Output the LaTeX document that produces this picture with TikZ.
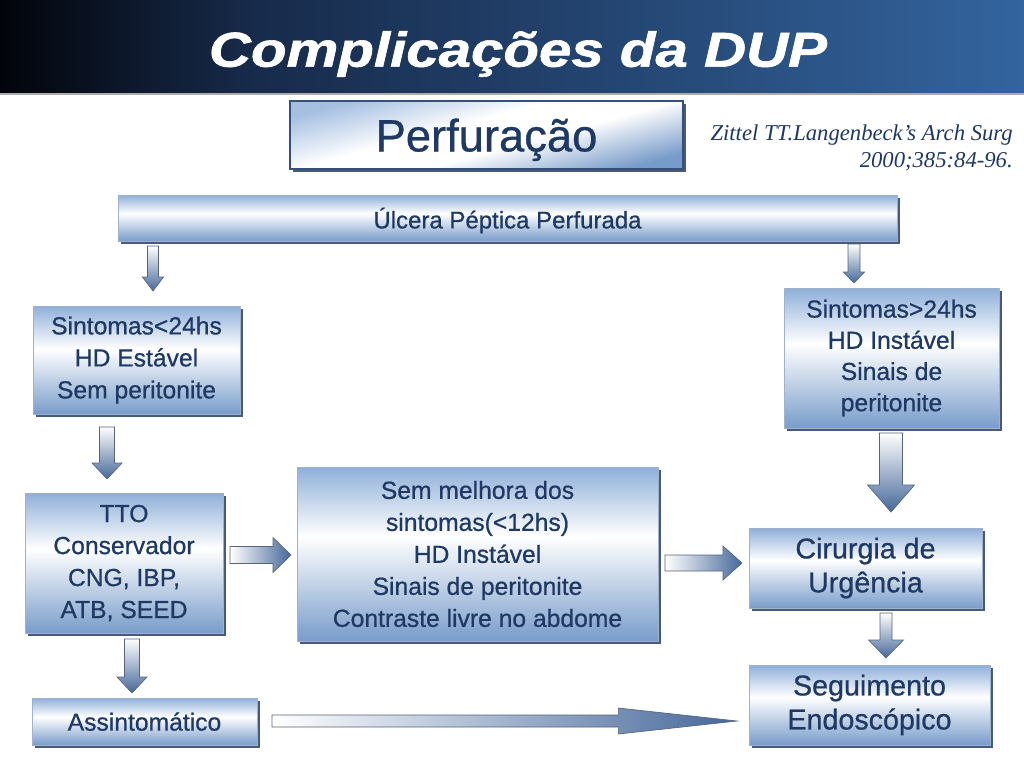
\documentclass[tikz,border=0pt]{standalone}
\usepackage{fontspec}
\setmainfont{Liberation Sans}[FakeBold=0.7]
\newfontfamily\citefont{Liberation Serif}
\newfontfamily\titlefont{Liberation Sans}[FakeBold=1.2]
\usetikzlibrary{shadows}
\definecolor{txt}{HTML}{1F3963}
\definecolor{tb0}{HTML}{02040A}
\definecolor{tb1}{HTML}{172A4A}
\definecolor{tb2}{HTML}{33649E}
\definecolor{btop}{HTML}{8FAFD9}
\definecolor{bbot}{HTML}{789CCA}
\definecolor{boxedge}{HTML}{9EB2CC}
\definecolor{shadowc}{HTML}{3E5275}
\definecolor{arrowc}{HTML}{46689A}
\definecolor{arrowedge}{HTML}{56657C}
\definecolor{perfedge}{HTML}{35507A}
\colorlet{pstart}{btop!80!white}
\pgfdeclarehorizontalshading{titlebar}{100bp}{color(0bp)=(tb0); color(25bp)=(tb0); color(37bp)=(tb1); color(75bp)=(tb2); color(100bp)=(tb2)}
\pgfdeclareverticalshading{boxv}{100bp}{color(0bp)=(bbot); color(25bp)=(bbot); color(55bp)=(white); color(75bp)=(btop); color(100bp)=(btop)}
\pgfdeclarehorizontalshading{perfshade}{100bp}{color(0bp)=(pstart); color(25bp)=(pstart); color(44bp)=(white); color(56bp)=(white); color(75bp)=(bbot); color(100bp)=(bbot)}
\tikzset{
  bx/.style 2 args={minimum width=#1*0.75pt, minimum height=#2*0.75pt},
  flowbox/.style={draw=boxedge, line width=0.6pt, shading=boxv, inner sep=0pt,
    drop shadow={shadow xshift=2.2pt, shadow yshift=-2.2pt, fill=shadowc, opacity=0.95},
    text=txt, align=center},
  txtA/.style={font={\fontsize{18.5}{24}\selectfont}},
  txtB/.style={font={\fontsize{21.5}{25.5}\selectfont}},
  darrow/.style n args={3}{to path={([xshift=-#1]\tikztostart) -- ([xshift=#1]\tikztostart)
      -- ([xshift=#1,yshift=#3]\tikztotarget) -- ([xshift=#2,yshift=#3]\tikztotarget)
      -- (\tikztotarget) -- ([xshift=-#2,yshift=#3]\tikztotarget)
      -- ([xshift=-#1,yshift=#3]\tikztotarget) -- cycle},
    top color=white, bottom color=arrowc, draw=arrowedge, line width=0.5pt},
  rarrow/.style n args={3}{to path={([yshift=#1]\tikztostart) -- ([yshift=-#1]\tikztostart)
      -- ([yshift=-#1,xshift=-#3]\tikztotarget) -- ([yshift=-#2,xshift=-#3]\tikztotarget)
      -- (\tikztotarget) -- ([yshift=#2,xshift=-#3]\tikztotarget)
      -- ([yshift=#1,xshift=-#3]\tikztotarget) -- cycle},
    left color=white, right color=arrowc, draw=arrowedge, line width=0.5pt},
}
\begin{document}
\begin{tikzpicture}[x=0.75pt,y=-0.75pt]
\useasboundingbox (0,0) rectangle (1024,768);
\fill[white] (0,0) rectangle (1024,768);
% title bar
\shade[shading=titlebar] (0,0) rectangle (1024,93);
\fill[gray!65] (0,93) rectangle (1024,95);
\node[text=white, font={\titlefont\fontsize{36.7}{40}\selectfont\bfseries\itshape}] (title) at (518,54)
  {\scalebox{1.19}[1]{Complicações da DUP}};
% Perfuracao
\node[bx={393}{68}, draw=perfedge, line width=0.8pt, inner sep=0pt,
  shading=perfshade, shading angle=-75,
  drop shadow={shadow xshift=2.2pt, shadow yshift=-2.2pt, fill=shadowc, opacity=0.95},
  text=txt, text depth=0pt, font={\fontsize{34}{38}\selectfont}] (perf) at (486.5,135) {Perfuração};
% citation
\node[anchor=east, align=right, text=txt, inner sep=0pt,
  font={\citefont\itshape\fontsize{17}{20.2}\selectfont}] (cite) at (1013,147.5)
  {Zittel TT.Langenbeck’s Arch Surg\\2000;385:84-96.};
% boxes
\node[flowbox, bx={779}{46}, text depth=0pt, font={\fontsize{18}{22}\selectfont}] (ulc) at (507.5,218) {Úlcera Péptica Perfurada};
\node[flowbox, bx={207}{108}, txtA] (s24) at (136.5,360) {Sintomas<24hs\\HD Estável\\Sem peritonite};
\node[flowbox, bx={215}{140}, font={\fontsize{18.5}{23.4}\selectfont}] (g24) at (891.5,358) {Sintomas>24hs\\HD Instável\\Sinais de\\peritonite};
\node[flowbox, bx={198}{140}, txtA] (tto) at (124,563) {TTO\\Conservador\\CNG, IBP,\\ATB, SEED};
\node[flowbox, bx={361}{174}, txtA] (sem) at (477.5,554) {Sem melhora dos\\sintomas(<12hs)\\HD Instável\\Sinais de peritonite\\Contraste livre no abdome};
\node[flowbox, bx={233}{80}, txtB] (cir) at (865.5,568) {Cirurgia de\\Urgência};
\node[flowbox, bx={225}{47}, txtA, text depth=0pt] (ass) at (144.5,721.5) {Assintomático};
\node[flowbox, bx={241}{80}, txtB] (seg) at (869.5,705) {Seguimento\\Endoscópico};
% arrow end points
\coordinate (a1s) at (153,246); \coordinate (a1e) at (153,291);
\coordinate (a2s) at (854,244); \coordinate (a2e) at (854,283);
\coordinate (a3s) at (107,427); \coordinate (a3e) at (107,479);
\coordinate (a4s) at (132,639); \coordinate (a4e) at (132,693);
\coordinate (a5s) at (230,555); \coordinate (a5e) at (291,555);
\coordinate (a6s) at (665,563); \coordinate (a6e) at (742,563);
\coordinate (a7s) at (272,721); \coordinate (a7e) at (737,721);
\coordinate (a8s) at (891,433); \coordinate (a8e) at (891,512);
\coordinate (a9s) at (886,613); \coordinate (a9e) at (886,658);
% block arrows
\shadedraw[darrow={4.1pt}{7.9pt}{10.5pt}] (a1s) to (a1e);
\shadedraw[darrow={4.5pt}{7.9pt}{8.25pt}] (a2s) to (a2e);
\shadedraw[darrow={5.6pt}{11.25pt}{12pt}] (a3s) to (a3e);
\shadedraw[darrow={5.6pt}{11.25pt}{12pt}] (a4s) to (a4e);
\shadedraw[rarrow={6.4pt}{13.1pt}{13.5pt}] (a5s) to (a5e);
\shadedraw[rarrow={6pt}{12.75pt}{14.25pt}] (a6s) to (a6e);
\shadedraw[rarrow={4.5pt}{9.75pt}{89pt}] (a7s) to (a7e);
\shadedraw[darrow={8.6pt}{17.6pt}{20.25pt}] (a8s) to (a8e);
\shadedraw[darrow={4.5pt}{13.1pt}{13.5pt}] (a9s) to (a9e);
\end{tikzpicture}
\end{document}
